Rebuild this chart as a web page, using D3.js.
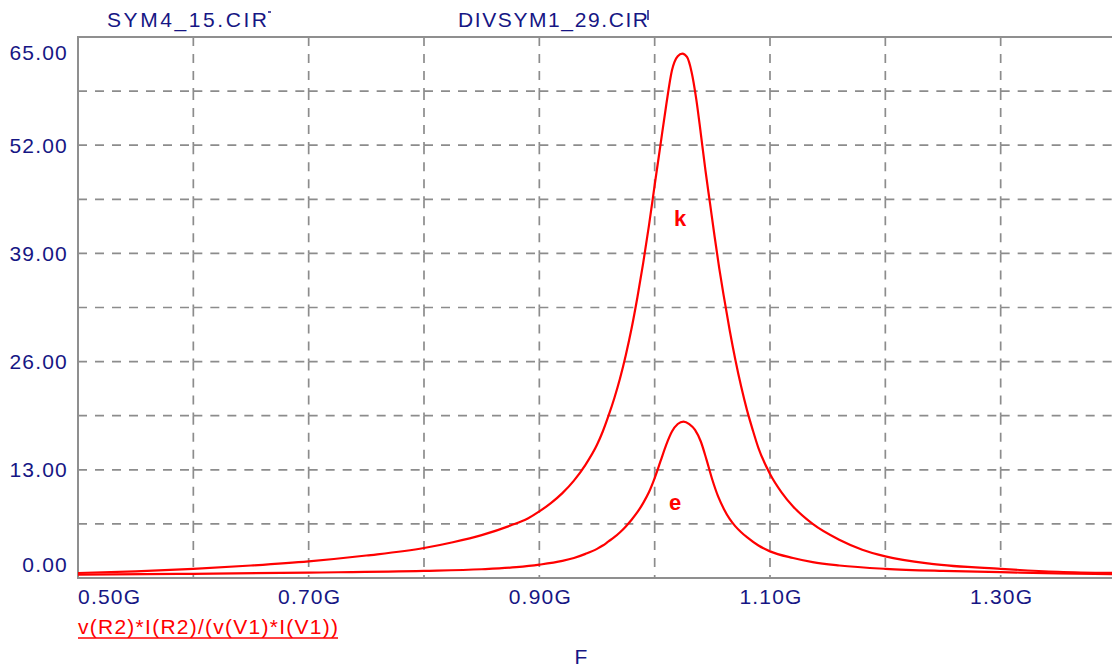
<!DOCTYPE html>
<html>
<head>
<meta charset="utf-8">
<script src="https://cdn.jsdelivr.net/npm/d3@7"></script>
<style>
  html, body { margin: 0; padding: 0; background: #fff; }
  svg { display: block; }
  text { font-family: "Liberation Sans", Arial, sans-serif; }
</style>
</head>
<body>
<svg id="chart" width="1112" height="669"></svg>
<script>
// frequency in GHz, value of v(R2)*I(R2)/(v(V1)*I(V1))
const freqK = [0.50, 0.55, 0.60, 0.65, 0.70, 0.75, 0.80, 0.825, 0.85, 0.875, 0.89, 0.90, 0.91, 0.92, 0.93, 0.94, 0.95, 0.955, 0.96, 0.965, 0.97, 0.975, 0.98, 0.985, 0.99, 0.995, 1.00, 1.005, 1.01, 1.015, 1.02, 1.024, 1.028, 1.032, 1.036, 1.04, 1.044, 1.048, 1.052, 1.056, 1.06, 1.065, 1.07, 1.075, 1.08, 1.085, 1.09, 1.10, 1.11, 1.12, 1.137, 1.16, 1.18, 1.20, 1.24, 1.30, 1.35, 1.40];
const valK  = [0.6, 0.8, 1.1, 1.5, 2.0, 2.7, 3.6, 4.3, 5.15, 6.3, 7.15, 8.0, 9.0, 10.2, 11.7, 13.6, 16.0, 17.6, 19.5, 21.6, 24.0, 26.8, 30.0, 33.7, 37.8, 42.3, 47.2, 52.0, 56.8, 61.0, 62.7, 63.0, 62.6, 60.8, 57.6, 53.4, 49.0, 45.0, 41.0, 37.2, 33.8, 29.8, 26.2, 23.0, 20.2, 17.8, 15.6, 12.5, 10.3, 8.6, 6.5, 4.6, 3.4, 2.6, 1.7, 1.1, 0.75, 0.6];

const freqE = [0.50, 0.60, 0.70, 0.80, 0.85, 0.88, 0.90, 0.92, 0.93, 0.94, 0.95, 0.955, 0.96, 0.965, 0.97, 0.975, 0.98, 0.985, 0.99, 0.995, 1.00, 1.005, 1.01, 1.015, 1.02, 1.025, 1.03, 1.035, 1.04, 1.045, 1.05, 1.055, 1.06, 1.065, 1.07, 1.075, 1.08, 1.09, 1.10, 1.12, 1.137, 1.16, 1.20, 1.25, 1.30, 1.35, 1.40];
const valE  = [0.4, 0.5, 0.65, 0.85, 1.05, 1.3, 1.6, 2.05, 2.4, 2.9, 3.5, 3.9, 4.4, 4.9, 5.5, 6.2, 7.0, 7.9, 9.0, 10.3, 12.0, 14.0, 16.0, 17.6, 18.5, 18.8, 18.5, 17.8, 16.4, 14.2, 11.8, 9.8, 8.3, 7.1, 6.2, 5.5, 4.9, 3.9, 3.2, 2.4, 1.9, 1.5, 1.1, 0.85, 0.7, 0.55, 0.45];

const xTicks = [0.5, 0.7, 0.9, 1.1, 1.3];
const xTickLabels = ["0.50G", "0.70G", "0.90G", "1.10G", "1.30G"];
const xGrid = [0.5, 0.6, 0.7, 0.8, 0.9, 1.0, 1.1, 1.2, 1.3, 1.4];
const yTicks = [0, 13, 26, 39, 52, 65];
const yTickLabels = ["0.00", "13.00", "26.00", "39.00", "52.00", "65.00"];
const yGrid = [0, 6.5, 13, 19.5, 26, 32.5, 39, 45.5, 52, 58.5, 65];

const navy = "#161684";
const gridCol = "#8c8c8c";

const svg = d3.select("#chart");

const x = d3.scaleLinear().domain([0.5, 1.4]).range([78, 1116]);
const y = d3.scaleLinear().domain([0, 65]).range([578, 37]);

// dashed grid, drawn cell by cell so a dash starts at every crossing
const grid = svg.append("g")
    .attr("stroke", gridCol)
    .attr("stroke-width", 1.7)
    .attr("stroke-dasharray", "9,8")
    .attr("fill", "none");

for (let i = 0; i < xGrid.length - 1; i++) {
    yGrid.slice(1, -1).forEach(v => {
        grid.append("line")
            .attr("x1", x(xGrid[i])).attr("x2", x(xGrid[i + 1]))
            .attr("y1", y(v)).attr("y2", y(v));
    });
}
for (let j = yGrid.length - 1; j > 0; j--) {
    xGrid.slice(1).forEach(f => {
        grid.append("line")
            .attr("x1", x(f)).attr("x2", x(f))
            .attr("y1", y(yGrid[j])).attr("y2", y(yGrid[j - 1]));
    });
}

// frame
svg.append("path")
    .attr("d", `M1112,${y(65)}H${x(0.5)}V${y(0)}H1112`)
    .attr("fill", "none")
    .attr("stroke", "#8f8f8f")
    .attr("stroke-width", 2);

// curves
const line = d3.line()
    .x(d => x(d[0]))
    .y(d => y(d[1]))
    .curve(d3.curveMonotoneX);

svg.append("clipPath").attr("id", "clip")
    .append("rect").attr("x", 78).attr("y", 30).attr("width", 1040).attr("height", 550);

const curves = svg.append("g").attr("clip-path", "url(#clip)");
curves.append("path")
    .datum(d3.zip(freqK, valK))
    .attr("d", line)
    .attr("fill", "none")
    .attr("stroke", "#ff0000")
    .attr("stroke-width", 2.2);
curves.append("path")
    .datum(d3.zip(freqE, valE))
    .attr("d", line)
    .attr("fill", "none")
    .attr("stroke", "#ff0000")
    .attr("stroke-width", 2.2);

// curve markers
svg.append("text")
    .attr("x", 680).attr("y", 226)
    .attr("text-anchor", "middle")
    .attr("font-size", 22).attr("font-weight", "bold")
    .attr("fill", "#ff0000")
    .text("k");
svg.append("text")
    .attr("x", 675).attr("y", 510)
    .attr("text-anchor", "middle")
    .attr("font-size", 22).attr("font-weight", "bold")
    .attr("fill", "#ff0000")
    .text("e");

// y tick labels
svg.append("g")
    .selectAll("text")
    .data(yTicks)
    .enter()
    .append("text")
    .attr("x", 68)
    .attr("y", d => {
        if (d === 65) return y(d) + 15;
        if (d === 0) return y(d) - 14;
        return y(d);
    })
    .attr("dy", "0.36em")
    .attr("text-anchor", "end")
    .attr("font-size", 21)
    .attr("letter-spacing", 1.2)
    .attr("fill", navy)
    .text((d, i) => yTickLabels[i]);

// x tick labels
svg.append("g")
    .selectAll("text")
    .data(xTicks)
    .enter()
    .append("text")
    .attr("x", (d, i) => i === 0 ? x(d) : x(d) + 1)
    .attr("y", 604)
    .attr("text-anchor", (d, i) => i === 0 ? "start" : "middle")
    .attr("font-size", 21)
    .attr("letter-spacing", 1.2)
    .attr("fill", navy)
    .text((d, i) => xTickLabels[i]);

// file names on top
svg.append("text")
    .attr("x", 107).attr("y", 27)
    .attr("font-size", 21)
    .attr("textLength", 160).attr("lengthAdjust", "spacing")
    .attr("fill", navy)
    .text("SYM4_15.CIR");
svg.append("line")
    .attr("x1", 268).attr("x2", 271).attr("y1", 12).attr("y2", 12)
    .attr("stroke", navy).attr("stroke-width", 1.5);

svg.append("text")
    .attr("x", 458).attr("y", 27)
    .attr("font-size", 21)
    .attr("textLength", 190).attr("lengthAdjust", "spacing")
    .attr("fill", navy)
    .text("DIVSYM1_29.CIR");
svg.append("line")
    .attr("x1", 648).attr("x2", 648).attr("y1", 10).attr("y2", 20)
    .attr("stroke", navy).attr("stroke-width", 1.5);

// expression label (underlined) and axis name
svg.append("text")
    .attr("x", 78).attr("y", 634)
    .attr("font-size", 21)
    .attr("textLength", 260).attr("lengthAdjust", "spacing")
    .attr("fill", "#ff0000")
    .text("v(R2)*I(R2)/(v(V1)*I(V1))");
svg.append("line")
    .attr("x1", 78).attr("x2", 338).attr("y1", 638).attr("y2", 638)
    .attr("stroke", "#ff0000").attr("stroke-width", 1.5);

svg.append("text")
    .attr("x", 581).attr("y", 664)
    .attr("text-anchor", "middle")
    .attr("font-size", 21)
    .attr("fill", navy)
    .text("F");
</script>
</body>
</html>
